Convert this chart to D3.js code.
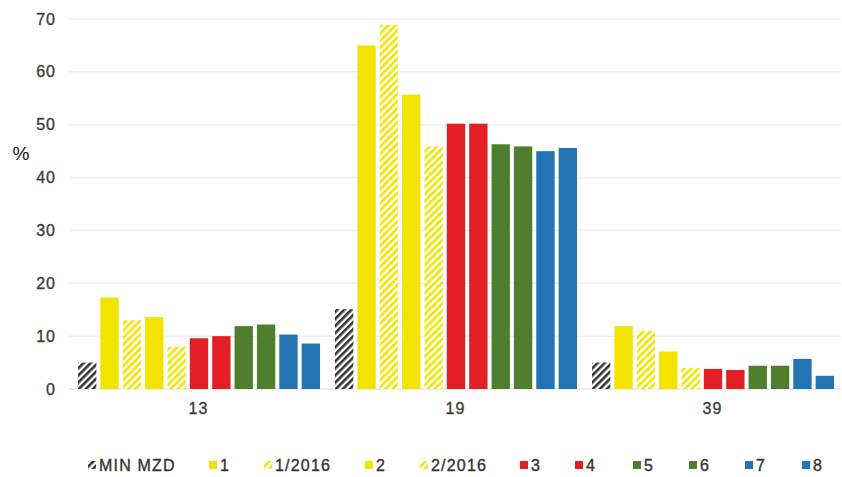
<!DOCTYPE html>
<meta charset="utf-8">
<style>
body { margin: 0; background: #fff; }
text { font-family: "Liberation Sans", Arial, sans-serif; }
</style>
<body>
<script src="https://cdn.jsdelivr.net/npm/d3@7"></script>
<script>

var categories = ["13", "19", "39"];
var seriesNames = ["MIN MZD", "1", "1/2016", "2", "2/2016", "3", "4", "5", "6", "7", "8"];
var seriesColors = ["#333333", "#f2e400", "#f2e400", "#f2e400", "#f2e400", "#e31e24", "#e31e24", "#4f7f2e", "#4f7f2e", "#2474b4", "#2474b4"];
var seriesHatched = [true, false, true, false, true, false, false, false, false, false, false];
var values13 = [5.0, 17.3, 13.0, 13.6, 8.0, 9.6, 10.0, 11.9, 12.2, 10.3, 8.6];
var values19 = [15.1, 65.0, 68.9, 55.7, 45.9, 50.2, 50.2, 46.3, 45.9, 45.0, 45.6];
var values39 = [5.0, 11.9, 11.0, 7.1, 4.0, 3.8, 3.6, 4.4, 4.4, 5.7, 2.5];
var yTicks = [0, 10, 20, 30, 40, 50, 60, 70];

var allValues = [values13, values19, values39];

var width = 842, height = 477;
var plot = {left: 70, right: 841, top: 19, bottom: 389};

var svg = d3.select("body").append("svg")
    .attr("width", width)
    .attr("height", height);

// hatch patterns
var defs = svg.append("defs");
seriesNames.forEach(function(s, i) {
  if (!seriesHatched[i]) return;
  var p = defs.append("pattern")
      .attr("id", "hatch" + i)
      .attr("patternUnits", "userSpaceOnUse")
      .attr("width", 5)
      .attr("height", 5)
      .attr("patternTransform", "rotate(45)");
  p.append("rect").attr("width", 5).attr("height", 5).attr("fill", "#fff");
  p.append("rect").attr("width", 2.6).attr("height", 5).attr("fill", seriesColors[i]);
});

function fillFor(i) {
  return seriesHatched[i] ? "url(#hatch" + i + ")" : seriesColors[i];
}

var x0 = d3.scaleBand()
    .domain(categories)
    .range([plot.left, plot.right]);

var x1 = d3.scaleBand()
    .domain(seriesNames)
    .range([8, 250])
    .paddingInner(0.18);

var y = d3.scaleLinear()
    .domain([0, 70])
    .range([plot.bottom, plot.top]);

// gridlines
svg.append("g").selectAll("line")
    .data(yTicks)
  .enter().append("line")
    .attr("x1", plot.left - 1)
    .attr("x2", plot.right)
    .attr("y1", function(d) { return y(d); })
    .attr("y2", function(d) { return y(d); })
    .attr("stroke", function(d) { return d === 0 ? "#e6e6e6" : "#efefef"; })
    .attr("stroke-width", 1.5);

// y axis labels
var yAxis = svg.append("g")
    .attr("transform", "translate(" + (plot.left - 14) + ",0)")
    .call(d3.axisLeft(y).tickValues(yTicks).tickSize(0).tickPadding(0));
yAxis.select(".domain").remove();
yAxis.selectAll("text")
    .style("font-size", "16px")
    .style("letter-spacing", "1px")
    .style("font-family", "'Liberation Sans', Arial, sans-serif")
    .attr("fill", "#3c3c3c")
    .attr("stroke", "#3c3c3c")
    .attr("stroke-width", 0.35);

svg.append("text")
    .attr("x", 21)
    .attr("y", 160)
    .attr("text-anchor", "middle")
    .style("font-size", "19px")
    .attr("fill", "#111")
    .text("%");

// x axis labels
var xAxis = svg.append("g")
    .attr("transform", "translate(0," + (plot.bottom + 14) + ")")
    .call(d3.axisBottom(x0).tickSize(0).tickPadding(0));
xAxis.select(".domain").remove();
xAxis.selectAll("text")
    .style("font-size", "16px")
    .style("letter-spacing", "1px")
    .style("font-family", "'Liberation Sans', Arial, sans-serif")
    .attr("fill", "#3c3c3c")
    .attr("stroke", "#3c3c3c")
    .attr("stroke-width", 0.35);

// bars
var groups = svg.append("g").selectAll("g")
    .data(categories)
  .enter().append("g")
    .attr("transform", function(d) { return "translate(" + x0(d) + ",0)"; });

groups.selectAll("rect")
    .data(function(d, ci) {
      return seriesNames.map(function(s, i) { return {s: s, i: i, v: allValues[ci][i]}; });
    })
  .enter().append("rect")
    .attr("x", function(d) { return x1(d.s); })
    .attr("width", x1.bandwidth())
    .attr("y", function(d) { return y(d.v); })
    .attr("height", function(d) { return y(0) - y(d.v); })
    .attr("fill", function(d) { return fillFor(d.i); });

// legend
var legendX = [88, 209, 264, 365, 420, 520, 575, 633, 689, 745, 802];
var legend = svg.append("g").selectAll("g")
    .data(seriesNames)
  .enter().append("g")
    .attr("transform", function(d, i) { return "translate(" + legendX[i] + ",465)"; });

legend.append("rect")
    .attr("x", 0)
    .attr("y", -4)
    .attr("width", 8)
    .attr("height", 8)
    .attr("fill", function(d, i) { return fillFor(i); });

legend.append("text")
    .attr("x", 11)
    .attr("y", 0)
    .attr("dy", "0.36em")
    .style("font-size", "16px")
    .style("letter-spacing", "1.2px")
    .attr("fill", "#333")
    .attr("stroke", "#333")
    .attr("stroke-width", 0.35)
    .text(function(d) { return d; });

</script>
</body>
